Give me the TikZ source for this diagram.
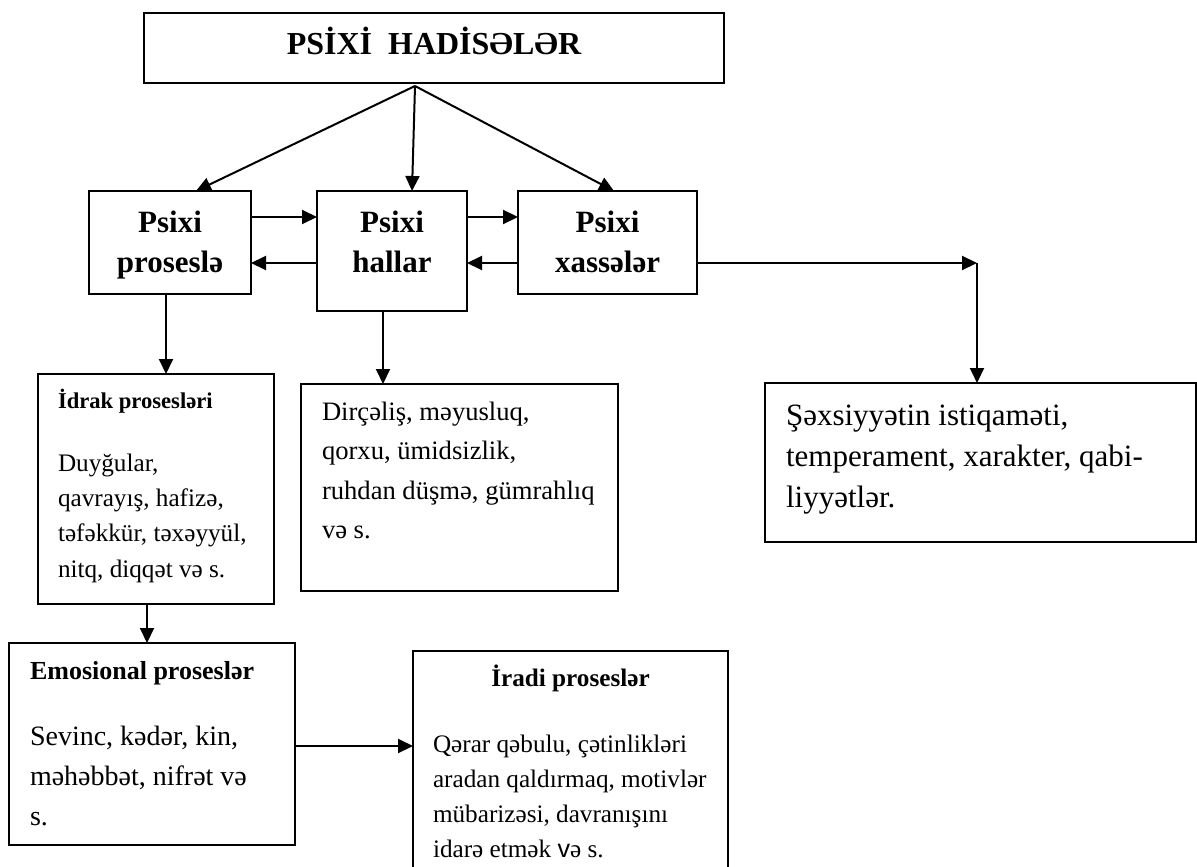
\documentclass[tikz,border=0pt]{standalone}
\usepackage{fontspec}
\setmainfont{Liberation Serif}
\newfontfamily\arialfont{Liberation Sans}
\usepackage{tikz}
\usetikzlibrary{calc, arrows.meta}

\tikzset{
  box/.style={draw, anchor=north west, inner sep=0pt, outer sep=0pt},
}
% width, height, first baseline, left pad, text
\newcommand{\boxtxt}[5]{\parbox[t][#2][t]{#1}{\leftskip=#4\relax\rule{0pt}{#3}#5}}
\newcommand{\headfont}{\fontsize{15.5}{20.5}\selectfont\bfseries}

\begin{document}
\begin{tikzpicture}[>={Triangle[length=7.5pt,width=7pt]}, line width=1pt, x=0.5pt, y={(0pt,-0.5pt)}]
            \useasboundingbox (0,0) rectangle (1197,866);
            % top
            \node[box] (hadise) at (144,13)
                {\boxtxt{290pt}{35pt}{21pt}{0pt}{\centering\fontsize{16}{20}\selectfont\bfseries PSİXİ\ \ HADİSƏLƏR}};
            % three groups
            \node[box] (proc) at (89,191) {\boxtxt{81pt}{51.5pt}{20.5pt}{0pt}{\centering\headfont Psixi\\proseslə}};
            \node[box] (hal) at (317,191) {\boxtxt{75pt}{60pt}{20.5pt}{0pt}{\centering\headfont Psixi\\hallar}};
            \node[box] (xas) at (518,191) {\boxtxt{89.5pt}{51.5pt}{20.5pt}{0pt}{\centering\headfont Psixi\\xassələr}};
            % details
            \node[box] (idrak) at (38,374)
                {\boxtxt{118pt}{115pt}{17pt}{10pt}{\fontsize{12.6}{17.7}\selectfont
                 {\fontsize{11.3}{17.7}\selectfont\bfseries İdrak prosesləri}\\[13.8pt]
                 Duyğular,\\ qavrayış, hafizə,\\ təfəkkür, təxəyyül,\\ nitq, diqqət və s.}};
            \node[box] (dir) at (301,384)
                {\boxtxt{158.5pt}{103.5pt}{18pt}{10.5pt}{\fontsize{13.3}{19.75}\selectfont
                 Dirçəliş, məyusluq,\\ qorxu, ümidsizlik,\\ ruhdan düşmə, gümrahlıq\\ və s.}};
            \node[box] (sex) at (765,383)
                {\boxtxt{215.5pt}{79.5pt}{21pt}{10.5pt}{\fontsize{15.5}{20.5}\selectfont
                 Şəxsiyyətin istiqaməti,\\ temperament, xarakter, qabi-\\ liyyətlər.}};
            \node[box] (emo) at (9,643)
                {\boxtxt{143pt}{101pt}{18pt}{10.5pt}{\fontsize{14}{20}\selectfont
                 {\fontsize{13}{20}\selectfont\bfseries Emosional proseslər}\\[13pt]
                 Sevinc, kədər, kin,\\ məhəbbət, nifrət və\\ s.}};
            \node[box] (irad) at (413,651)
                {\boxtxt{157.5pt}{120pt}{17.5pt}{10pt}{%
                 {\centering\fontsize{12.6}{17.5}\selectfont\bfseries İradi proseslər\par}
                 \vspace{15.5pt}\fontsize{12.6}{17.5}\selectfont
                 Qərar qəbulu, çətinlikləri\\ aradan qaldırmaq, motivlər\\
                 mübarizəsi, davranışını\\ idarə etmək {\arialfont v}ə s.}};
            % arrows
            \coordinate (apex) at (415,86);
            \draw[->] (apex) -- ($(proc.north)+(26,0)$);
            \draw[->] (apex) -- ($(hal.north)+(20,0)$);
            \draw[->] (apex) -- ($(xas.north)+(6.5,0)$);
            \draw[->] ($(proc.north east)+(0,26)$) -- ($(hal.north west)+(0,26)$);
            \draw[->] ($(hal.north west)+(0,72)$) -- ($(proc.north east)+(0,72)$);
            \draw[->] ($(hal.north east)+(0,26)$) -- ($(xas.north west)+(0,26)$);
            \draw[->] ($(xas.north west)+(0,72)$) -- ($(hal.north east)+(0,72)$);
            \coordinate (bend) at (977,263);
            \draw[->] ($(xas.north east)+(0,72)$) -- (bend);
            \draw[->] (bend) -- (bend |- sex.north);
            \draw[->] ($(proc.south)+(-4,0)$) -- ($(idrak.north)+(10,0)$);
            \draw[->] ($(hal.south)+(-9,0)$) -- ($(dir.north west)+(82,0)$);
            \draw[->] ($(idrak.south)+(-9,0)$) -- ($(emo.north)+(-5,0)$);
            \draw[->] ($(emo.north east)+(0,103)$) -- ($(irad.north west)+(0,95)$);
\end{tikzpicture}
\end{document}
